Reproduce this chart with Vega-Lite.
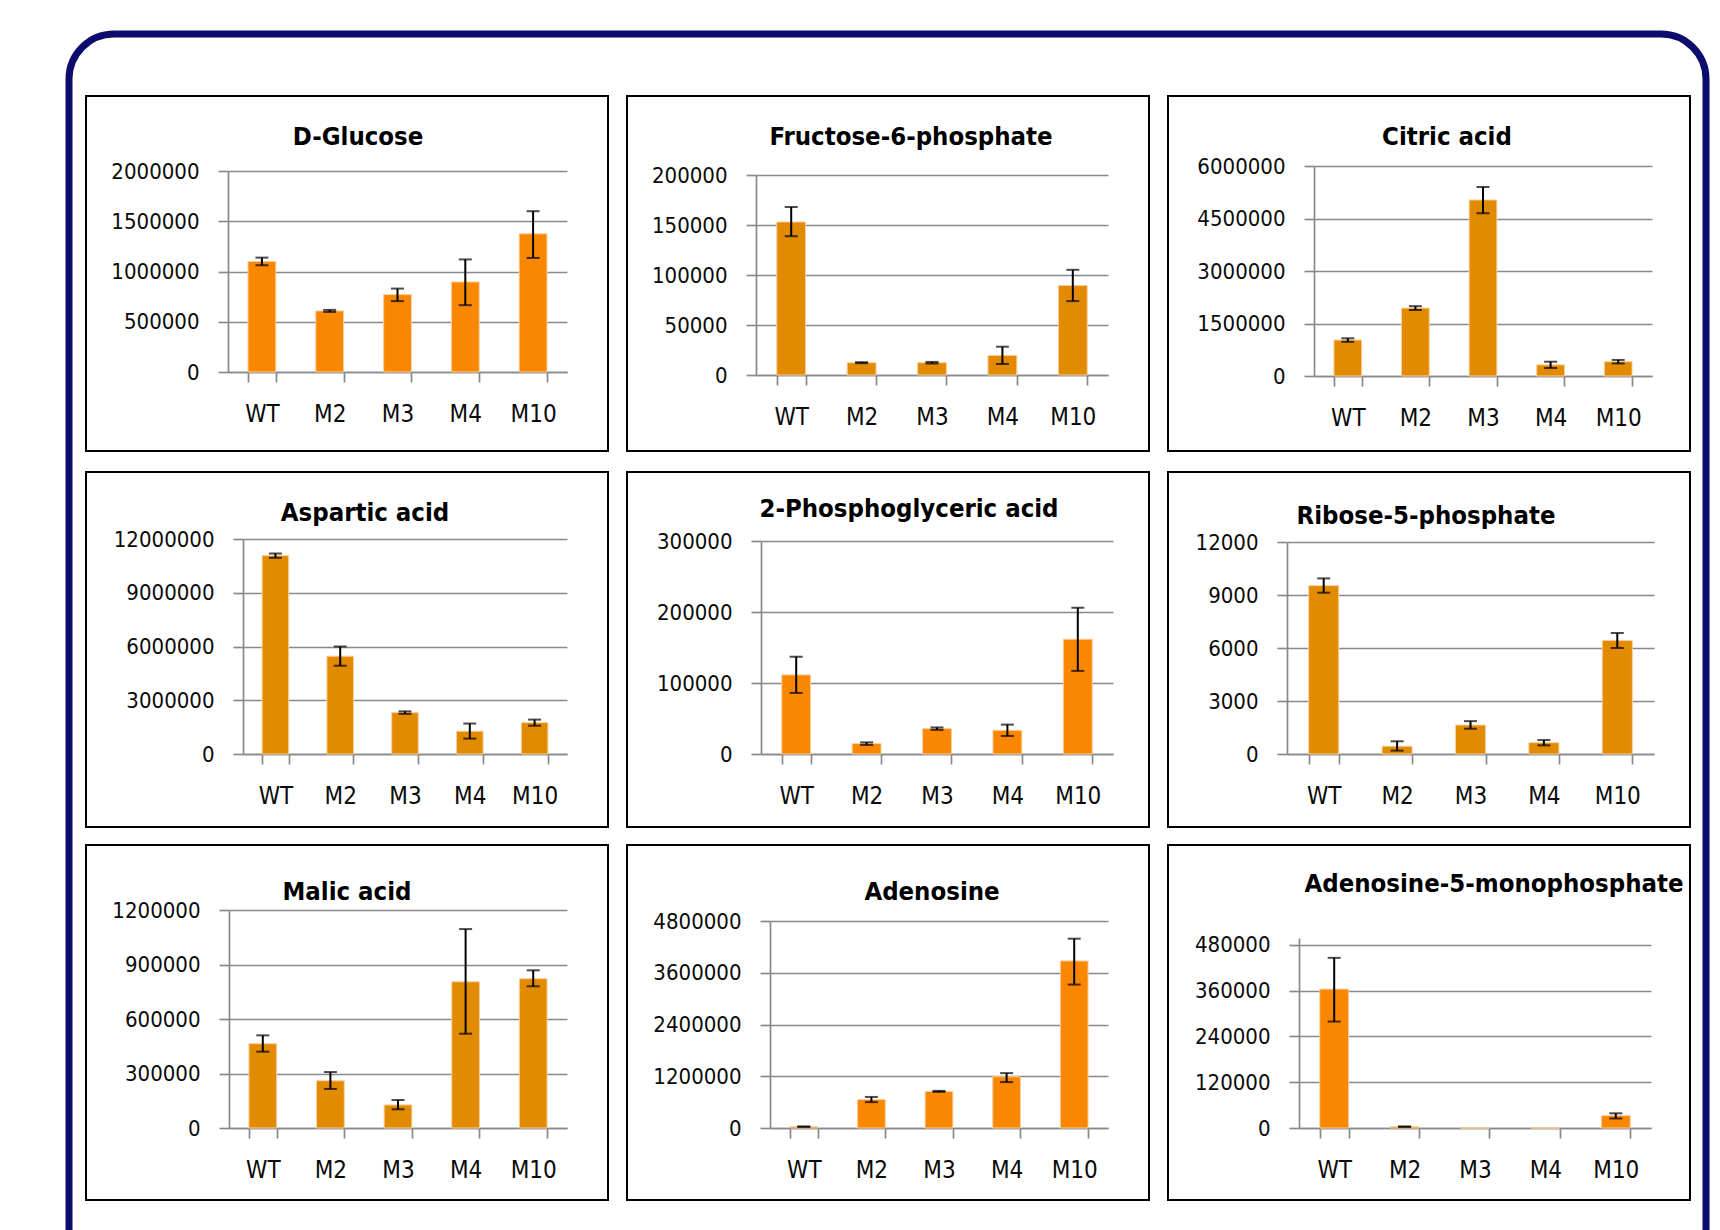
{
  "$schema": "https://vega.github.io/schema/vega-lite/v6.json",
  "usermeta": {"embedOptions": {"actions": false}},
  "background": "white",
  "autosize": {"type": "pad"},
  "padding": {"left": 65, "top": 30, "right": 11, "bottom": -57},
  "config": {
    "font": "DejaVu Sans Condensed, Roboto Condensed, Liberation Sans",
    "view": {"stroke": "#000000", "strokeWidth": 2},
    "axis": {
      "labelFont": "DejaVu Sans Condensed, Roboto Condensed, Liberation Sans",
      "labelFontSize": 22,
      "labelColor": "#0a0a0a",
      "domainColor": "#898989",
      "domainWidth": 1.7,
      "tickColor": "#898989",
      "tickWidth": 1.7,
      "tickSize": 10,
      "gridColor": "#898989",
      "gridWidth": 1.7,
      "labelOverlap": false
    },
    "axisX": {"grid": false, "tickBand": "extent", "labelPadding": 20, "labelAngle": 0, "labelFontSize": 24, "zindex": 1},
    "axisY": {"grid": true, "labelPadding": 19, "format": "d"},
    "title": {
      "font": "DejaVu Sans Condensed, Roboto Condensed, Liberation Sans",
      "fontSize": 25.5,
      "fontWeight": "bold",
      "color": "#000000",
      "anchor": "middle",
      "frame": "group",
      "baseline": "alphabetic"
    },
    "bar": {"stroke": "#F8CF9C", "strokeWidth": 1},
    "rule": {"color": "#000000", "strokeWidth": 2},
    "tick": {"color": "#000000", "thickness": 2, "size": 13}
  },
  "datasets": {
    "metabolites": [
      {"metabolite": "D-Glucose", "strain": "WT", "mean": 1100000, "lo": 1062000, "hi": 1138000},
      {"metabolite": "D-Glucose", "strain": "M2", "mean": 608000, "lo": 598000, "hi": 618000},
      {"metabolite": "D-Glucose", "strain": "M3", "mean": 770000, "lo": 705000, "hi": 830000},
      {"metabolite": "D-Glucose", "strain": "M4", "mean": 896000, "lo": 665000, "hi": 1120000},
      {"metabolite": "D-Glucose", "strain": "M10", "mean": 1375000, "lo": 1135000, "hi": 1600000},

      {"metabolite": "Fructose-6-phosphate", "strain": "WT", "mean": 153000, "lo": 138800, "hi": 168000},
      {"metabolite": "Fructose-6-phosphate", "strain": "M2", "mean": 12300, "lo": 11800, "hi": 12800},
      {"metabolite": "Fructose-6-phosphate", "strain": "M3", "mean": 12300, "lo": 11500, "hi": 13100},
      {"metabolite": "Fructose-6-phosphate", "strain": "M4", "mean": 19600, "lo": 11000, "hi": 28300},
      {"metabolite": "Fructose-6-phosphate", "strain": "M10", "mean": 89500, "lo": 73900, "hi": 105200},

      {"metabolite": "Citric acid", "strain": "WT", "mean": 1027000, "lo": 977000, "hi": 1077000},
      {"metabolite": "Citric acid", "strain": "M2", "mean": 1940000, "lo": 1885000, "hi": 1995000},
      {"metabolite": "Citric acid", "strain": "M3", "mean": 5030000, "lo": 4650000, "hi": 5400000},
      {"metabolite": "Citric acid", "strain": "M4", "mean": 318000, "lo": 228000, "hi": 408000},
      {"metabolite": "Citric acid", "strain": "M10", "mean": 409000, "lo": 359000, "hi": 459000},

      {"metabolite": "Aspartic acid", "strain": "WT", "mean": 11070000, "lo": 10950000, "hi": 11190000},
      {"metabolite": "Aspartic acid", "strain": "M2", "mean": 5460000, "lo": 4930000, "hi": 6000000},
      {"metabolite": "Aspartic acid", "strain": "M3", "mean": 2310000, "lo": 2240000, "hi": 2380000},
      {"metabolite": "Aspartic acid", "strain": "M4", "mean": 1270000, "lo": 860000, "hi": 1700000},
      {"metabolite": "Aspartic acid", "strain": "M10", "mean": 1750000, "lo": 1580000, "hi": 1920000},

      {"metabolite": "2-Phosphoglyceric acid", "strain": "WT", "mean": 111400, "lo": 86000, "hi": 137000},
      {"metabolite": "2-Phosphoglyceric acid", "strain": "M2", "mean": 14600, "lo": 12800, "hi": 16400},
      {"metabolite": "2-Phosphoglyceric acid", "strain": "M3", "mean": 35700, "lo": 34000, "hi": 37400},
      {"metabolite": "2-Phosphoglyceric acid", "strain": "M4", "mean": 33400, "lo": 25400, "hi": 41400},
      {"metabolite": "2-Phosphoglyceric acid", "strain": "M10", "mean": 161700, "lo": 117000, "hi": 206000},

      {"metabolite": "Ribose-5-phosphate", "strain": "WT", "mean": 9530, "lo": 9130, "hi": 9940},
      {"metabolite": "Ribose-5-phosphate", "strain": "M2", "mean": 440, "lo": 190, "hi": 720},
      {"metabolite": "Ribose-5-phosphate", "strain": "M3", "mean": 1640, "lo": 1430, "hi": 1860},
      {"metabolite": "Ribose-5-phosphate", "strain": "M4", "mean": 640, "lo": 490, "hi": 790},
      {"metabolite": "Ribose-5-phosphate", "strain": "M10", "mean": 6420, "lo": 6000, "hi": 6850},

      {"metabolite": "Malic acid", "strain": "WT", "mean": 464000, "lo": 420000, "hi": 510000},
      {"metabolite": "Malic acid", "strain": "M2", "mean": 260000, "lo": 215000, "hi": 308000},
      {"metabolite": "Malic acid", "strain": "M3", "mean": 127000, "lo": 103000, "hi": 154000},
      {"metabolite": "Malic acid", "strain": "M4", "mean": 805000, "lo": 519000, "hi": 1095000},
      {"metabolite": "Malic acid", "strain": "M10", "mean": 822000, "lo": 780000, "hi": 868000},

      {"metabolite": "Adenosine", "strain": "WT", "mean": 31000, "lo": 26000, "hi": 36000},
      {"metabolite": "Adenosine", "strain": "M2", "mean": 660000, "lo": 600000, "hi": 720000},
      {"metabolite": "Adenosine", "strain": "M3", "mean": 849000, "lo": 837000, "hi": 861000},
      {"metabolite": "Adenosine", "strain": "M4", "mean": 1188000, "lo": 1065000, "hi": 1273000},
      {"metabolite": "Adenosine", "strain": "M10", "mean": 3874000, "lo": 3326000, "hi": 4390000},

      {"metabolite": "Adenosine-5-monophosphate", "strain": "WT", "mean": 364000, "lo": 279000, "hi": 446000},
      {"metabolite": "Adenosine-5-monophosphate", "strain": "M2", "mean": 3500, "lo": 3000, "hi": 4000},
      {"metabolite": "Adenosine-5-monophosphate", "strain": "M3", "mean": 0, "lo": null, "hi": null},
      {"metabolite": "Adenosine-5-monophosphate", "strain": "M4", "mean": 0, "lo": null, "hi": null},
      {"metabolite": "Adenosine-5-monophosphate", "strain": "M10", "mean": 32500, "lo": 25000, "hi": 38500}
    ]
  },
  "columns": 1,
  "align": "none",
  "spacing": -1193,
  "concat": [
    {
      "width": 1637,
      "height": 1250,
      "view": {"stroke": "#0c0c6c", "strokeWidth": 7, "cornerRadius": 45, "fill": null},
      "data": {"values": []},
      "mark": "point"
    },
    {
      "spacing": 15,
      "hconcat": [
        {
          "width": 1,
          "height": 1,
          "view": {"stroke": null, "fill": null},
          "data": {"values": []},
          "mark": "point"
        },
        {
          "spacing": 19,
          "vconcat": [
            {
              "spacing": 17,
              "hconcat": [
                {
                  "width": 522, "height": 355,
                  "title": {"text": "D-Glucose", "dx": 11, "offset": -54.2},
                  "data": {"name": "metabolites"},
                  "transform": [{"filter": "datum.metabolite === 'D-Glucose'"}],
                  "encoding": {
                    "x": {"field": "strain", "type": "nominal", "sort": ["WT", "M2", "M3", "M4", "M10"],
                          "scale": {"range": [142, 481], "paddingInner": 0.59, "paddingOuter": 0.295},
                          "axis": {"title": null, "offset": -79}}
                  },
                  "layer": [
                    {"mark": {"type": "bar", "color": "#FA8700"},
                     "encoding": {"y": {"field": "mean", "type": "quantitative", "title": null,
                       "scale": {"domain": [0, 2000000], "range": [276, 75], "nice": false},
                       "axis": {"title": null, "offset": -142, "values": [0, 500000, 1000000, 1500000, 2000000]}}}},
                    {"mark": "rule",
                     "encoding": {"y": {"field": "lo", "type": "quantitative", "title": null,
                       "scale": {"domain": [0, 2000000], "range": [276, 75], "nice": false},
                       "axis": {"title": null, "offset": -142, "values": [0, 500000, 1000000, 1500000, 2000000]}},
                                  "y2": {"field": "hi"}}},
                    {"mark": "tick",
                     "encoding": {"y": {"field": "lo", "type": "quantitative", "title": null,
                       "scale": {"domain": [0, 2000000], "range": [276, 75], "nice": false},
                       "axis": {"title": null, "offset": -142, "values": [0, 500000, 1000000, 1500000, 2000000]}}}},
                    {"mark": "tick",
                     "encoding": {"y": {"field": "hi", "type": "quantitative", "title": null,
                       "scale": {"domain": [0, 2000000], "range": [276, 75], "nice": false},
                       "axis": {"title": null, "offset": -142, "values": [0, 500000, 1000000, 1500000, 2000000]}}}}
                  ]
                },
                {
                  "width": 522, "height": 355,
                  "title": {"text": "Fructose-6-phosphate", "dx": 23, "offset": -54.2},
                  "data": {"name": "metabolites"},
                  "transform": [{"filter": "datum.metabolite === 'Fructose-6-phosphate'"}],
                  "encoding": {
                    "x": {"field": "strain", "type": "nominal", "sort": ["WT", "M2", "M3", "M4", "M10"],
                          "scale": {"range": [129, 481], "paddingInner": 0.59, "paddingOuter": 0.295},
                          "axis": {"title": null, "offset": -76}}
                  },
                  "layer": [
                    {"mark": {"type": "bar", "color": "#E38B00"},
                     "encoding": {"y": {"field": "mean", "type": "quantitative", "title": null,
                       "scale": {"domain": [0, 200000], "range": [279, 79], "nice": false},
                       "axis": {"title": null, "offset": -129, "values": [0, 50000, 100000, 150000, 200000]}}}},
                    {"mark": "rule",
                     "encoding": {"y": {"field": "lo", "type": "quantitative", "title": null,
                       "scale": {"domain": [0, 200000], "range": [279, 79], "nice": false},
                       "axis": {"title": null, "offset": -129, "values": [0, 50000, 100000, 150000, 200000]}},
                                  "y2": {"field": "hi"}}},
                    {"mark": "tick",
                     "encoding": {"y": {"field": "lo", "type": "quantitative", "title": null,
                       "scale": {"domain": [0, 200000], "range": [279, 79], "nice": false},
                       "axis": {"title": null, "offset": -129, "values": [0, 50000, 100000, 150000, 200000]}}}},
                    {"mark": "tick",
                     "encoding": {"y": {"field": "hi", "type": "quantitative", "title": null,
                       "scale": {"domain": [0, 200000], "range": [279, 79], "nice": false},
                       "axis": {"title": null, "offset": -129, "values": [0, 50000, 100000, 150000, 200000]}}}}
                  ]
                },
                {
                  "width": 522, "height": 355,
                  "title": {"text": "Citric acid", "dx": 18, "offset": -54.2},
                  "data": {"name": "metabolites"},
                  "transform": [{"filter": "datum.metabolite === 'Citric acid'"}],
                  "encoding": {
                    "x": {"field": "strain", "type": "nominal", "sort": ["WT", "M2", "M3", "M4", "M10"],
                          "scale": {"range": [146, 484], "paddingInner": 0.59, "paddingOuter": 0.295},
                          "axis": {"title": null, "offset": -75}}
                  },
                  "layer": [
                    {"mark": {"type": "bar", "color": "#E38B00"},
                     "encoding": {"y": {"field": "mean", "type": "quantitative", "title": null,
                       "scale": {"domain": [0, 6000000], "range": [280, 70], "nice": false},
                       "axis": {"title": null, "offset": -146, "values": [0, 1500000, 3000000, 4500000, 6000000]}}}},
                    {"mark": "rule",
                     "encoding": {"y": {"field": "lo", "type": "quantitative", "title": null,
                       "scale": {"domain": [0, 6000000], "range": [280, 70], "nice": false},
                       "axis": {"title": null, "offset": -146, "values": [0, 1500000, 3000000, 4500000, 6000000]}},
                                  "y2": {"field": "hi"}}},
                    {"mark": "tick",
                     "encoding": {"y": {"field": "lo", "type": "quantitative", "title": null,
                       "scale": {"domain": [0, 6000000], "range": [280, 70], "nice": false},
                       "axis": {"title": null, "offset": -146, "values": [0, 1500000, 3000000, 4500000, 6000000]}}}},
                    {"mark": "tick",
                     "encoding": {"y": {"field": "hi", "type": "quantitative", "title": null,
                       "scale": {"domain": [0, 6000000], "range": [280, 70], "nice": false},
                       "axis": {"title": null, "offset": -146, "values": [0, 1500000, 3000000, 4500000, 6000000]}}}}
                  ]
                }
              ]
            },
            {
              "spacing": 16,
              "vconcat": [
                {
                  "spacing": 17,
                  "hconcat": [
                    {
                      "width": 522, "height": 355,
                      "title": {"text": "Aspartic acid", "dx": 18, "offset": -54.2},
                      "data": {"name": "metabolites"},
                      "transform": [{"filter": "datum.metabolite === 'Aspartic acid'"}],
                      "encoding": {
                        "x": {"field": "strain", "type": "nominal", "sort": ["WT", "M2", "M3", "M4", "M10"],
                              "scale": {"range": [157, 481], "paddingInner": 0.59, "paddingOuter": 0.295},
                              "axis": {"title": null, "offset": -73}}
                      },
                      "layer": [
                        {"mark": {"type": "bar", "color": "#E38B00"},
                         "encoding": {"y": {"field": "mean", "type": "quantitative", "title": null,
                           "scale": {"domain": [0, 12000000], "range": [282, 67], "nice": false},
                           "axis": {"title": null, "offset": -157, "values": [0, 3000000, 6000000, 9000000, 12000000]}}}},
                        {"mark": "rule",
                         "encoding": {"y": {"field": "lo", "type": "quantitative", "title": null,
                           "scale": {"domain": [0, 12000000], "range": [282, 67], "nice": false},
                           "axis": {"title": null, "offset": -157, "values": [0, 3000000, 6000000, 9000000, 12000000]}},
                                      "y2": {"field": "hi"}}},
                        {"mark": "tick",
                         "encoding": {"y": {"field": "lo", "type": "quantitative", "title": null,
                           "scale": {"domain": [0, 12000000], "range": [282, 67], "nice": false},
                           "axis": {"title": null, "offset": -157, "values": [0, 3000000, 6000000, 9000000, 12000000]}}}},
                        {"mark": "tick",
                         "encoding": {"y": {"field": "hi", "type": "quantitative", "title": null,
                           "scale": {"domain": [0, 12000000], "range": [282, 67], "nice": false},
                           "axis": {"title": null, "offset": -157, "values": [0, 3000000, 6000000, 9000000, 12000000]}}}}
                      ]
                    },
                    {
                      "width": 522, "height": 355,
                      "title": {"text": "2-Phosphoglyceric acid", "dx": 21, "offset": -50.7},
                      "data": {"name": "metabolites"},
                      "transform": [{"filter": "datum.metabolite === '2-Phosphoglyceric acid'"}],
                      "encoding": {
                        "x": {"field": "strain", "type": "nominal", "sort": ["WT", "M2", "M3", "M4", "M10"],
                              "scale": {"range": [134, 486], "paddingInner": 0.59, "paddingOuter": 0.295},
                              "axis": {"title": null, "offset": -73}}
                      },
                      "layer": [
                        {"mark": {"type": "bar", "color": "#FA8700"},
                         "encoding": {"y": {"field": "mean", "type": "quantitative", "title": null,
                           "scale": {"domain": [0, 300000], "range": [282, 69], "nice": false},
                           "axis": {"title": null, "offset": -134, "values": [0, 100000, 200000, 300000]}}}},
                        {"mark": "rule",
                         "encoding": {"y": {"field": "lo", "type": "quantitative", "title": null,
                           "scale": {"domain": [0, 300000], "range": [282, 69], "nice": false},
                           "axis": {"title": null, "offset": -134, "values": [0, 100000, 200000, 300000]}},
                                      "y2": {"field": "hi"}}},
                        {"mark": "tick",
                         "encoding": {"y": {"field": "lo", "type": "quantitative", "title": null,
                           "scale": {"domain": [0, 300000], "range": [282, 69], "nice": false},
                           "axis": {"title": null, "offset": -134, "values": [0, 100000, 200000, 300000]}}}},
                        {"mark": "tick",
                         "encoding": {"y": {"field": "hi", "type": "quantitative", "title": null,
                           "scale": {"domain": [0, 300000], "range": [282, 69], "nice": false},
                           "axis": {"title": null, "offset": -134, "values": [0, 100000, 200000, 300000]}}}}
                      ]
                    },
                    {
                      "width": 522, "height": 355,
                      "title": {"text": "Ribose-5-phosphate", "dx": -3, "offset": -57.2},
                      "data": {"name": "metabolites"},
                      "transform": [{"filter": "datum.metabolite === 'Ribose-5-phosphate'"}],
                      "encoding": {
                        "x": {"field": "strain", "type": "nominal", "sort": ["WT", "M2", "M3", "M4", "M10"],
                              "scale": {"range": [119, 486], "paddingInner": 0.59, "paddingOuter": 0.295},
                              "axis": {"title": null, "offset": -73}}
                      },
                      "layer": [
                        {"mark": {"type": "bar", "color": "#E38B00"},
                         "encoding": {"y": {"field": "mean", "type": "quantitative", "title": null,
                           "scale": {"domain": [0, 12000], "range": [282, 70], "nice": false},
                           "axis": {"title": null, "offset": -119, "values": [0, 3000, 6000, 9000, 12000]}}}},
                        {"mark": "rule",
                         "encoding": {"y": {"field": "lo", "type": "quantitative", "title": null,
                           "scale": {"domain": [0, 12000], "range": [282, 70], "nice": false},
                           "axis": {"title": null, "offset": -119, "values": [0, 3000, 6000, 9000, 12000]}},
                                      "y2": {"field": "hi"}}},
                        {"mark": "tick",
                         "encoding": {"y": {"field": "lo", "type": "quantitative", "title": null,
                           "scale": {"domain": [0, 12000], "range": [282, 70], "nice": false},
                           "axis": {"title": null, "offset": -119, "values": [0, 3000, 6000, 9000, 12000]}}}},
                        {"mark": "tick",
                         "encoding": {"y": {"field": "hi", "type": "quantitative", "title": null,
                           "scale": {"domain": [0, 12000], "range": [282, 70], "nice": false},
                           "axis": {"title": null, "offset": -119, "values": [0, 3000, 6000, 9000, 12000]}}}}
                      ]
                    }
                  ]
                },
                {
                  "spacing": 17,
                  "hconcat": [
                    {
                      "width": 522, "height": 355,
                      "title": {"text": "Malic acid", "dx": 0, "offset": -60.2},
                      "data": {"name": "metabolites"},
                      "transform": [{"filter": "datum.metabolite === 'Malic acid'"}],
                      "encoding": {
                        "x": {"field": "strain", "type": "nominal", "sort": ["WT", "M2", "M3", "M4", "M10"],
                              "scale": {"range": [143, 481], "paddingInner": 0.59, "paddingOuter": 0.295},
                              "axis": {"title": null, "offset": -72}}
                      },
                      "layer": [
                        {"mark": {"type": "bar", "color": "#E38B00"},
                         "encoding": {"y": {"field": "mean", "type": "quantitative", "title": null,
                           "scale": {"domain": [0, 1200000], "range": [283, 65], "nice": false},
                           "axis": {"title": null, "offset": -143, "values": [0, 300000, 600000, 900000, 1200000]}}}},
                        {"mark": "rule",
                         "encoding": {"y": {"field": "lo", "type": "quantitative", "title": null,
                           "scale": {"domain": [0, 1200000], "range": [283, 65], "nice": false},
                           "axis": {"title": null, "offset": -143, "values": [0, 300000, 600000, 900000, 1200000]}},
                                      "y2": {"field": "hi"}}},
                        {"mark": "tick",
                         "encoding": {"y": {"field": "lo", "type": "quantitative", "title": null,
                           "scale": {"domain": [0, 1200000], "range": [283, 65], "nice": false},
                           "axis": {"title": null, "offset": -143, "values": [0, 300000, 600000, 900000, 1200000]}}}},
                        {"mark": "tick",
                         "encoding": {"y": {"field": "hi", "type": "quantitative", "title": null,
                           "scale": {"domain": [0, 1200000], "range": [283, 65], "nice": false},
                           "axis": {"title": null, "offset": -143, "values": [0, 300000, 600000, 900000, 1200000]}}}}
                      ]
                    },
                    {
                      "width": 522, "height": 355,
                      "title": {"text": "Adenosine", "dx": 44, "offset": -60.2},
                      "data": {"name": "metabolites"},
                      "transform": [{"filter": "datum.metabolite === 'Adenosine'"}],
                      "encoding": {
                        "x": {"field": "strain", "type": "nominal", "sort": ["WT", "M2", "M3", "M4", "M10"],
                              "scale": {"range": [143, 481], "paddingInner": 0.59, "paddingOuter": 0.295},
                              "axis": {"title": null, "offset": -72}}
                      },
                      "layer": [
                        {"mark": {"type": "bar", "color": "#FA8700"},
                         "encoding": {"y": {"field": "mean", "type": "quantitative", "title": null,
                           "scale": {"domain": [0, 4800000], "range": [283, 76], "nice": false},
                           "axis": {"title": null, "offset": -143, "values": [0, 1200000, 2400000, 3600000, 4800000]}}}},
                        {"mark": "rule",
                         "encoding": {"y": {"field": "lo", "type": "quantitative", "title": null,
                           "scale": {"domain": [0, 4800000], "range": [283, 76], "nice": false},
                           "axis": {"title": null, "offset": -143, "values": [0, 1200000, 2400000, 3600000, 4800000]}},
                                      "y2": {"field": "hi"}}},
                        {"mark": "tick",
                         "encoding": {"y": {"field": "lo", "type": "quantitative", "title": null,
                           "scale": {"domain": [0, 4800000], "range": [283, 76], "nice": false},
                           "axis": {"title": null, "offset": -143, "values": [0, 1200000, 2400000, 3600000, 4800000]}}}},
                        {"mark": "tick",
                         "encoding": {"y": {"field": "hi", "type": "quantitative", "title": null,
                           "scale": {"domain": [0, 4800000], "range": [283, 76], "nice": false},
                           "axis": {"title": null, "offset": -143, "values": [0, 1200000, 2400000, 3600000, 4800000]}}}}
                      ]
                    },
                    {
                      "width": 522, "height": 355,
                      "title": {"text": "Adenosine-5-monophosphate", "dx": 65, "offset": -52.2},
                      "data": {"name": "metabolites"},
                      "transform": [{"filter": "datum.metabolite === 'Adenosine-5-monophosphate'"}],
                      "encoding": {
                        "x": {"field": "strain", "type": "nominal", "sort": ["WT", "M2", "M3", "M4", "M10"],
                              "scale": {"range": [131, 483], "paddingInner": 0.59, "paddingOuter": 0.295},
                              "axis": {"title": null, "offset": -72}}
                      },
                      "layer": [
                        {"mark": {"type": "bar", "color": "#FA8700"},
                         "encoding": {"y": {"field": "mean", "type": "quantitative", "title": null,
                           "scale": {"domain": [0, 498000], "range": [283, 93], "nice": false},
                           "axis": {"title": null, "offset": -131, "values": [0, 120000, 240000, 360000, 480000]}}}},
                        {"mark": "rule",
                         "encoding": {"y": {"field": "lo", "type": "quantitative", "title": null,
                           "scale": {"domain": [0, 498000], "range": [283, 93], "nice": false},
                           "axis": {"title": null, "offset": -131, "values": [0, 120000, 240000, 360000, 480000]}},
                                      "y2": {"field": "hi"}}},
                        {"mark": "tick",
                         "encoding": {"y": {"field": "lo", "type": "quantitative", "title": null,
                           "scale": {"domain": [0, 498000], "range": [283, 93], "nice": false},
                           "axis": {"title": null, "offset": -131, "values": [0, 120000, 240000, 360000, 480000]}}}},
                        {"mark": "tick",
                         "encoding": {"y": {"field": "hi", "type": "quantitative", "title": null,
                           "scale": {"domain": [0, 498000], "range": [283, 93], "nice": false},
                           "axis": {"title": null, "offset": -131, "values": [0, 120000, 240000, 360000, 480000]}}}}
                      ]
                    }
                  ]
                }
              ]
            }
          ]
        }
      ]
    }
  ]
}
